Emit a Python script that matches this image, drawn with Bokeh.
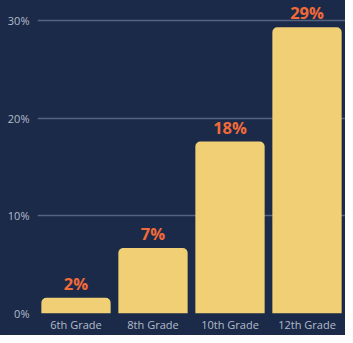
from bokeh.plotting import figure
from bokeh.models import ColumnDataSource, Range1d, FactorRange, FixedTicker, CustomJSTickFormatter
from bokeh.core.properties import value
from bokeh.embed import file_html
from bokeh.resources import INLINE

grades = ["6th Grade", "8th Grade", "10th Grade", "12th Grade"]
values = [1.6, 6.7, 17.6, 29.3]
labels = ["2%", "7%", "18%", "29%"]
y_ticks = [0, 10, 20, 30]

BG = "#1b2a48"
source = ColumnDataSource(dict(grade=grades, val=values, label=labels))

p = figure(width=345, height=335, output_backend="svg", toolbar_location=None,
           x_range=FactorRange(*grades, start=0.05, end=3.99),
           y_range=Range1d(0, 32.05),
           background_fill_color=BG, border_fill_color=BG,
           min_border_left=37, min_border_right=0, min_border_top=0, min_border_bottom=22,
           styles={"background-color": BG})
p.outline_line_color = None

p.vbar(x="grade", top="val", width=0.9, source=source, fill_color="#f0cf75",
       line_color=None, border_radius=(5, 5, 0, 0))

p.text(x="grade", y="val", text="label", source=source, text_align="center",
       text_baseline="bottom", y_offset=-3, text_color="#f26a3a",
       text_font=value("Open Sans"), text_font_size="16.5px", text_font_style="bold")

p.xgrid.grid_line_color = None
p.ygrid.grid_line_color = "#56637f"
p.ygrid.grid_line_width = 1.5
p.yaxis.ticker = FixedTicker(ticks=y_ticks)
p.yaxis.formatter = CustomJSTickFormatter(code="return tick + '%'")

p.axis.axis_line_color = None
p.axis.major_tick_line_color = None
p.axis.minor_tick_line_color = None
p.axis.major_tick_out = 0
p.axis.major_tick_in = 0
p.axis.minor_tick_out = 0
p.axis.major_label_text_color = "#b4bccb"
p.axis.major_label_text_font = "Open Sans"
p.axis.major_label_text_font_size = "11px"
p.yaxis.major_label_standoff = 8
p.xaxis.major_label_standoff = 3

open("out.html", "w").write(file_html(p, INLINE))
